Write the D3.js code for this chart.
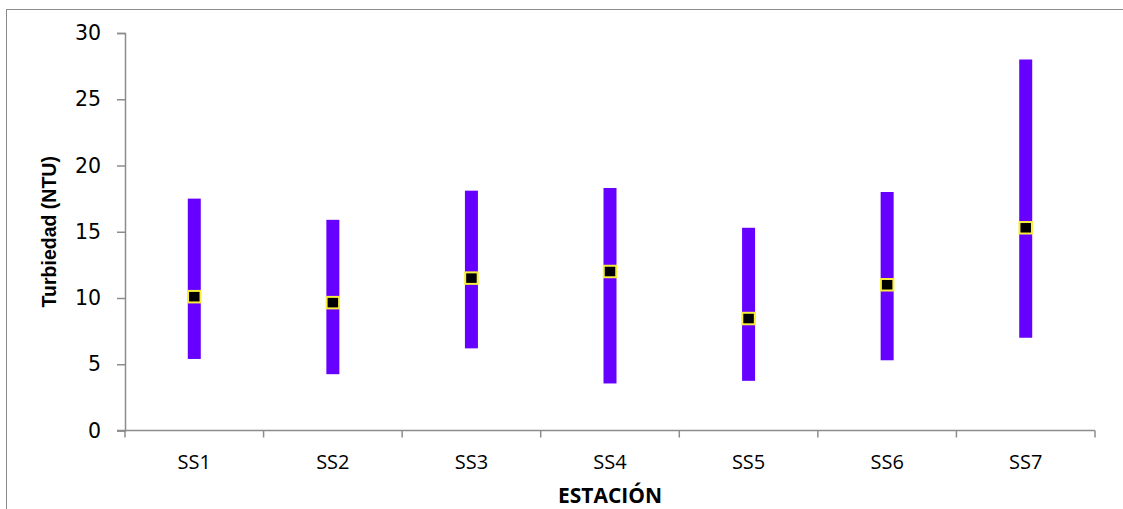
<!DOCTYPE html>
<html>
<head>
<meta charset="utf-8">
<script src="https://cdn.jsdelivr.net/npm/d3@7"></script>
<style>
  html, body { margin: 0; padding: 0; background: #fff; }
  svg { display: block; }
</style>
</head>
<body>
<div id="chart"></div>
<script>
// ─── Data ─────────────────────────────────────────────────────────────────────
const stations = ['SS1', 'SS2', 'SS3', 'SS4', 'SS5', 'SS6', 'SS7']
const minVals  = [5.4, 4.25, 6.2, 3.55, 3.75, 5.3, 7.0]
const maxVals  = [17.5, 15.9, 18.1, 18.3, 15.3, 18.0, 28.0]
const meanVals = [10.1, 9.65, 11.5, 12.0, 8.45, 11.0, 15.3]
const yTicks   = [0, 5, 10, 15, 20, 25, 30]

const rows = stations.map((s, i) => ({ s, lo: minVals[i], hi: maxVals[i], mean: meanVals[i] }))

// ─── Layout ───────────────────────────────────────────────────────────────────
const W = 1123, H = 509
const plot = { left: 125, right: 1095, top: 33, bottom: 430.5 }

const svg = d3.select('#chart').append('svg')
  .attr('width', W).attr('height', H)

// outer frame (right/bottom edges fall outside the picture)
svg.append('rect')
  .attr('x', 6.5).attr('y', 9.5)
  .attr('width', 1130).attr('height', 520)
  .attr('fill', 'none').attr('stroke', '#8c8c8c').attr('stroke-width', 1)

const x = d3.scaleBand().domain(stations).range([plot.left, plot.right]).padding(0)
const y = d3.scaleLinear().domain([0, 30]).range([plot.bottom, plot.top])

const axisColor = '#8c8c8c'

// ── Y axis ────────────────────────────────────────────────────────────────────
const yAxis = svg.append('g')
  .attr('transform', `translate(${plot.left},0)`)
  .call(d3.axisLeft(y).tickValues(yTicks).tickSize(8).tickPadding(16).tickFormat(d3.format('d')))
  .attr('font-family', 'DejaVu Sans, Verdana, sans-serif')
  .attr('font-size', 20.5)
yAxis.select('.domain').attr('stroke', axisColor).attr('stroke-width', 1.5)
yAxis.selectAll('.tick line').attr('stroke', axisColor).attr('stroke-width', 1.5)
yAxis.selectAll('.tick text').attr('fill', '#000')

// ── X axis ────────────────────────────────────────────────────────────────────
const xAxisG = svg.append('g').attr('transform', `translate(0,${plot.bottom})`)
xAxisG.append('line')
  .attr('x1', plot.left - 8).attr('x2', plot.right)
  .attr('y1', 0).attr('y2', 0)
  .attr('stroke', axisColor).attr('stroke-width', 1.5)
const boundaries = stations.map(s => x(s)).concat([plot.right])
xAxisG.selectAll('line.tk')
  .data(boundaries)
  .join('line')
  .attr('class', 'tk')
  .attr('x1', d => d).attr('x2', d => d)
  .attr('y1', 0).attr('y2', 7)
  .attr('stroke', axisColor).attr('stroke-width', 1.5)
xAxisG.selectAll('text')
  .data(stations)
  .join('text')
  .attr('x', d => x(d) + x.bandwidth() / 2)
  .attr('y', 38)
  .attr('text-anchor', 'middle')
  .attr('font-family', 'Open Sans, Liberation Sans, sans-serif')
  .attr('font-size', '20px')
  .attr('fill', '#000')
  .text(d => d)

// ── Axis titles ───────────────────────────────────────────────────────────────
svg.append('text')
  .attr('x', 610).attr('y', 503)
  .attr('text-anchor', 'middle')
  .attr('font-family', 'Open Sans, Liberation Sans, sans-serif')
  .attr('font-weight', 'bold')
  .attr('font-size', '21px')
  .text('ESTACIÓN')

svg.append('text')
  .attr('transform', `translate(56,${(plot.top + plot.bottom) / 2}) rotate(-90)`)
  .attr('text-anchor', 'middle')
  .attr('font-family', 'Liberation Sans, Arial, sans-serif')
  .attr('font-weight', 'bold')
  .attr('font-size', '19.5px')
  .text('Turbiedad (NTU)')

// ── Range bars ────────────────────────────────────────────────────────────────
const barW = 13
svg.append('g')
  .selectAll('rect')
  .data(rows)
  .join('rect')
  .attr('x', d => x(d.s) + x.bandwidth() / 2 - barW / 2)
  .attr('y', d => y(d.hi))
  .attr('width', barW)
  .attr('height', d => y(d.lo) - y(d.hi))
  .attr('fill', '#6600ff')

// ── Mean markers ──────────────────────────────────────────────────────────────
const mW = 12.5, mH = 11.5
svg.append('g')
  .selectAll('rect')
  .data(rows)
  .join('rect')
  .attr('x', d => x(d.s) + x.bandwidth() / 2 - mW / 2)
  .attr('y', d => y(d.mean) - mH / 2)
  .attr('width', mW)
  .attr('height', mH)
  .attr('fill', '#000')
  .attr('stroke', '#f7ee3c')
  .attr('stroke-width', 2)
</script>
</body>
</html>
